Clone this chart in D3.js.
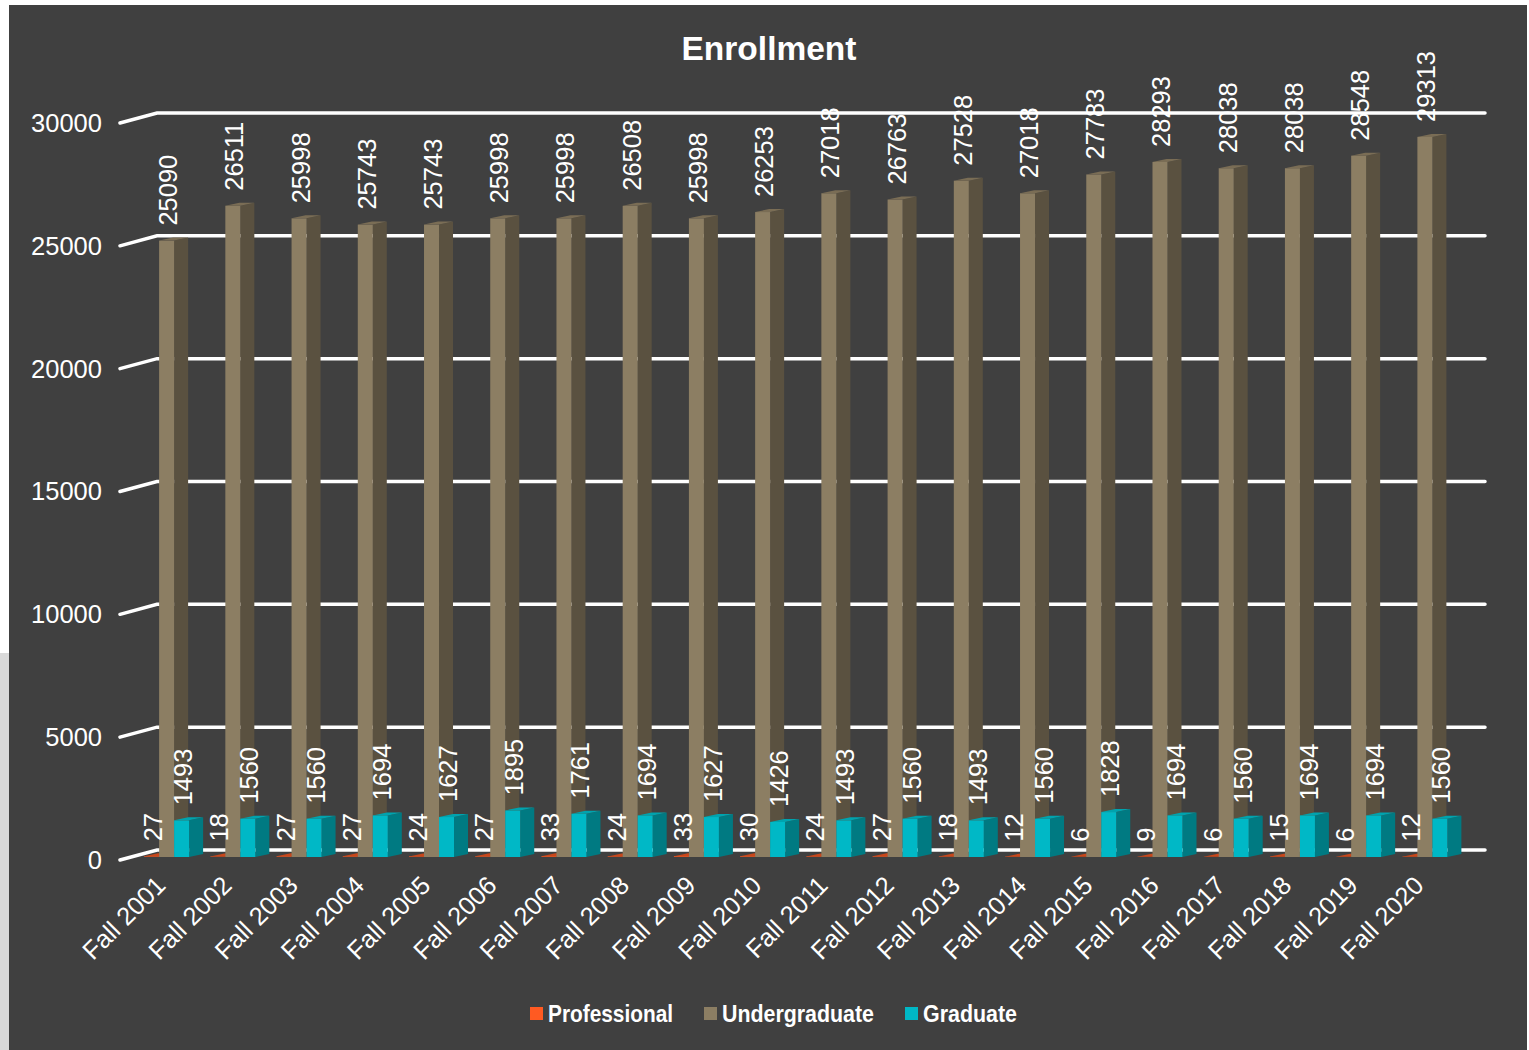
<!DOCTYPE html>
<html>
<head>
<meta charset="utf-8">
<script src="https://cdn.jsdelivr.net/npm/d3@7"></script>
<style>
  html, body { margin: 0; padding: 0; background: #ffffff; }
  svg { display: block; }
</style>
</head>
<body>
<svg id="chart" width="1529" height="1050"></svg>
<script>
// Enrollment by term, three student levels
const categories = ["Fall 2001","Fall 2002","Fall 2003","Fall 2004","Fall 2005","Fall 2006","Fall 2007","Fall 2008","Fall 2009","Fall 2010",
                    "Fall 2011","Fall 2012","Fall 2013","Fall 2014","Fall 2015","Fall 2016","Fall 2017","Fall 2018","Fall 2019","Fall 2020"];
const professional  = [27,18,27,27,24,27,33,24,33,30,24,27,18,12,6,9,6,15,6,12];
const undergraduate = [25090,26511,25998,25743,25743,25998,25998,26508,25998,26253,27018,26763,27528,27018,27783,28293,28038,28038,28548,29313];
const graduate      = [1493,1560,1560,1694,1627,1895,1761,1694,1627,1426,1493,1560,1493,1560,1828,1694,1560,1694,1694,1560];
const seriesNames   = ["Professional","Undergraduate","Graduate"];
const yTicks        = [0,5000,10000,15000,20000,25000,30000];

const seriesValues = [professional, undergraduate, graduate];
const colors = {
  Professional:  { front: "#ff5a22", side: "#b33d15", top: "#c8471b" },
  Undergraduate: { front: "#8c7e63", side: "#5a5140", top: "#7a6d55" },
  Graduate:      { front: "#00b8c6", side: "#007a82", top: "#00a3ae" }
};

const svg = d3.select("#chart");
const FONT = "'Liberation Sans', Arial, sans-serif";
const LABEL_SIZE = 25.5;

// page frame
svg.append("rect").attr("x", 9).attr("y", 5).attr("width", 1518).attr("height", 1050).attr("fill", "#404040");
svg.append("rect").attr("x", 0).attr("y", 653).attr("width", 9).attr("height", 400).attr("fill", "#d9d9d9");

// scales: back wall, front edge of the side wall, and bar front faces
const wallLeft = 157, wallRight = 1485, sideLeft = 120;
const yBack  = d3.scaleLinear().domain([0, 30000]).range([850, 113]);
const yFront = d3.scaleLinear().domain([0, 30000]).range([860, 123]);
const yBar   = d3.scaleLinear().domain([0, 30000]).range([857, 120]);

const x0 = d3.scaleBand().domain(categories).range([133.5, 1458]).padding(0);
const x1 = d3.scaleBand().domain(seriesNames).range([0, 45]).padding(0);
const groupOffset = (x0.bandwidth() - 45) / 2;
const depthX = 14, depthY = -3;

// title
svg.append("text")
  .attr("x", 769).attr("y", 60)
  .attr("text-anchor", "middle")
  .attr("font-family", FONT).attr("font-weight", "bold").attr("font-size", 33.5)
  .attr("fill", "#ffffff")
  .text("Enrollment");

// gridlines on the back wall plus side-wall segments
const grid = svg.append("g").attr("stroke", "#ffffff").attr("stroke-width", 3.5).attr("stroke-linecap", "round").attr("fill", "none");
yTicks.forEach(t => {
  grid.append("path").attr("d", d3.line()([[sideLeft, yFront(t)], [wallLeft, yBack(t)], [wallRight, yBack(t)]]));
});

// y tick labels
svg.append("g").selectAll("text").data(yTicks).join("text")
  .attr("x", 102).attr("y", d => yFront(d))
  .attr("dy", "0.35em")
  .attr("text-anchor", "end")
  .attr("font-family", FONT).attr("font-size", LABEL_SIZE)
  .attr("fill", "#ffffff")
  .text(d => d);

// 3D columns
const bars = svg.append("g");
categories.forEach((cat, i) => {
  seriesNames.forEach((s, k) => {
    const v = seriesValues[k][i];
    const x = x0(cat) + groupOffset + x1(s);
    const w = x1.bandwidth();
    const top = yBar(v), bottom = yBar(0);
    const c = colors[s];
    const g = bars.append("g");
    g.append("path").attr("fill", c.side)
      .attr("d", d3.line()([[x + w, top], [x + w + depthX, top + depthY], [x + w + depthX, bottom + depthY], [x + w, bottom]]) + "Z");
    g.append("rect").attr("x", x).attr("y", top).attr("width", w).attr("height", bottom - top).attr("fill", c.front);
    g.append("path").attr("fill", c.top)
      .attr("d", d3.line()([[x, top], [x + depthX, top + depthY], [x + w + depthX, top + depthY], [x + w, top]]) + "Z");
  });
});

// value labels
const labels = svg.append("g");
categories.forEach((cat, i) => {
  seriesNames.forEach((s, k) => {
    const v = seriesValues[k][i];
    const cx = x0(cat) + groupOffset + x1(s) + x1.bandwidth() / 2 + 1.5;
    const y = yBar(v) - 15;
    labels.append("text")
      .attr("transform", `translate(${cx + 9},${y}) rotate(-90)`)
      .attr("font-family", FONT).attr("font-size", LABEL_SIZE)
      .attr("fill", "#ffffff")
      .text(v);
  });
});

// category labels
svg.append("g").selectAll("text").data(categories).join("text")
  .attr("transform", d => `translate(${x0(d) + groupOffset + 23},${887}) rotate(-45)`)
  .attr("text-anchor", "end")
  .attr("font-family", FONT).attr("font-size", LABEL_SIZE)
  .attr("fill", "#ffffff")
  .text(d => d);

// legend
const legendItems = [
  { name: "Professional",  sx: 530, tx: 548, tw: 125 },
  { name: "Undergraduate", sx: 704, tx: 722, tw: 152 },
  { name: "Graduate",      sx: 905, tx: 923, tw: 94 }
];
const legend = svg.append("g");
legendItems.forEach(it => {
  legend.append("rect").attr("x", it.sx).attr("y", 1007).attr("width", 13).attr("height", 13).attr("fill", colors[it.name].front);
  legend.append("text")
    .attr("x", it.tx).attr("y", 1022)
    .attr("font-family", "'Liberation Sans Narrow', 'Liberation Sans', Arial, sans-serif")
    .attr("font-size", 24).attr("font-weight", "bold")
    .attr("textLength", it.tw).attr("lengthAdjust", "spacingAndGlyphs")
    .attr("fill", "#ffffff")
    .text(it.name);
});
</script>
</body>
</html>
